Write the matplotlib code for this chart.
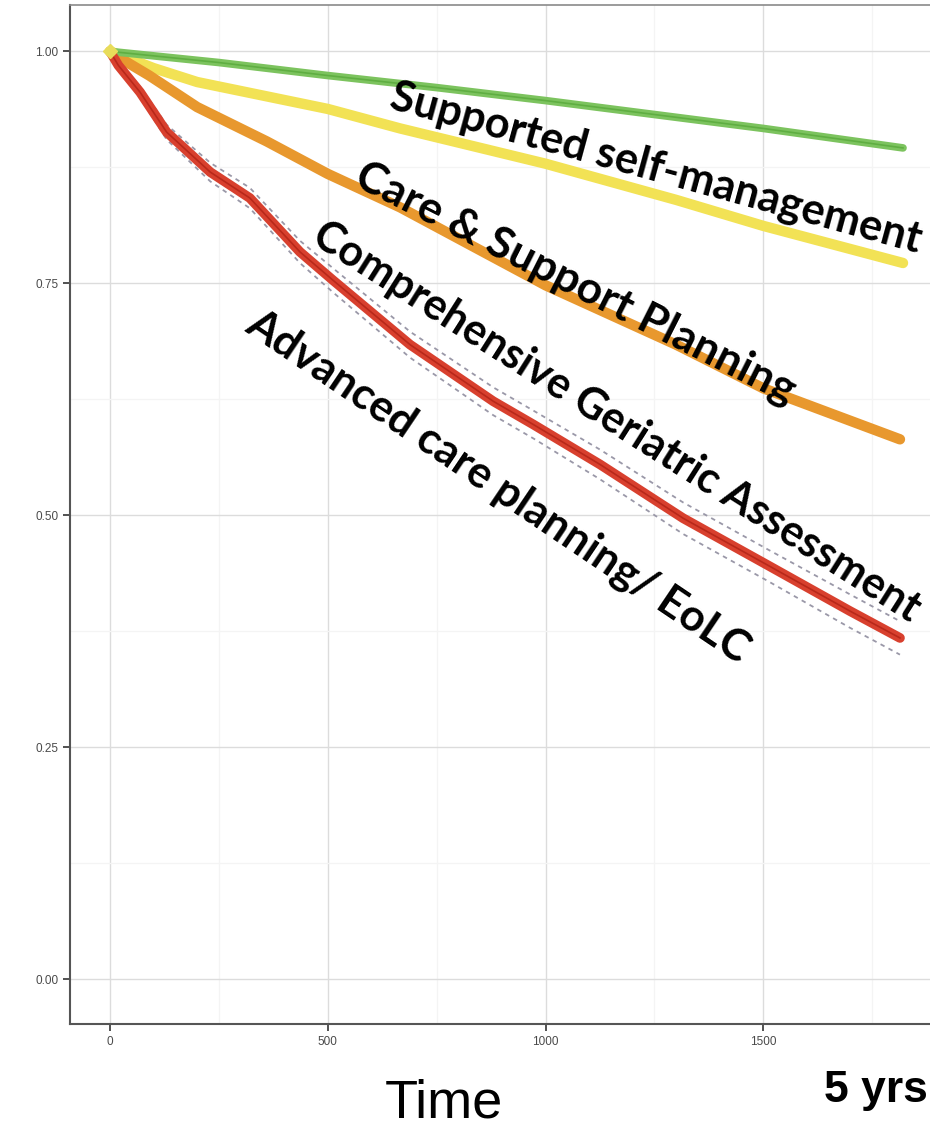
import numpy as np
import matplotlib
matplotlib.use('Agg')
import matplotlib.pyplot as plt
from matplotlib.ticker import MultipleLocator


# Survival curves (time in days, proportion surviving).
green_t = [0, 250, 500, 750, 1000, 1300, 1500, 1821]
green_s = [1.0, 0.988, 0.974, 0.961, 0.947, 0.929, 0.917, 0.896]

yellow_t = [0, 50, 100, 200, 500, 666, 1000, 1300, 1500, 1821]
yellow_s = [1.0, 0.991, 0.982, 0.967, 0.938, 0.917, 0.879, 0.840, 0.812, 0.772]

orange_t = [0, 40, 90, 200, 360, 500, 666, 1000, 1300, 1500, 1814]
orange_s = [1.0, 0.988, 0.974, 0.940, 0.903, 0.868, 0.832, 0.748, 0.684, 0.637, 0.582]

red_t = [0, 19, 69, 130, 230, 321, 436, 513, 689, 880, 972, 1125, 1316, 1508, 1699, 1814]
red_s = [1.0, 0.985, 0.956, 0.913, 0.870, 0.842, 0.784, 0.753, 0.684, 0.623, 0.598,
         0.555, 0.497, 0.447, 0.397, 0.368]
red_hi = [1.0, 0.989, 0.962, 0.921, 0.880, 0.853, 0.796, 0.766, 0.698, 0.638, 0.613,
          0.571, 0.514, 0.464, 0.415, 0.386]
red_lo = [1.0, 0.981, 0.950, 0.905, 0.860, 0.831, 0.772, 0.740, 0.670, 0.608, 0.583,
          0.539, 0.480, 0.430, 0.379, 0.350]

labels = ['Supported self-management', 'Care & Support Planning',
          'Comprehensive Geriatric Assessment', 'Advanced care planning/ EoLC']

xticks = [0, 500, 1000, 1500]
yticks = [0.0, 0.25, 0.5, 0.75, 1.0]


W, H = 930, 1127
fig = plt.figure(figsize=(W / 100, H / 100), dpi=100)
ax = fig.add_axes([70 / W, (H - 1024) / H, 1 - 70 / W, (1024 - 5) / H])

ax.set_xlim(-92, 1883)
ax.set_ylim(-0.048, 1.050)

# grid
ax.xaxis.set_major_locator(MultipleLocator(500))
ax.xaxis.set_minor_locator(MultipleLocator(250))
ax.yaxis.set_major_locator(MultipleLocator(0.25))
ax.yaxis.set_minor_locator(MultipleLocator(0.125))
ax.grid(which='major', color='#dcdcdc', lw=1.0)
ax.grid(which='minor', color='#f4f4f4', lw=0.9)
ax.set_axisbelow(True)
ax.tick_params(which='minor', length=0)
ax.tick_params(which='major', direction='out', length=5, width=1.2, color='#333333',
               labelsize=8.5, labelcolor='#4a4a4a')
ax.set_xticks(xticks)
ax.set_yticks(yticks)
ax.set_yticklabels(['%.2f' % v for v in yticks])
for lab in ax.get_xticklabels() + ax.get_yticklabels():
    lab.set_fontfamily('Liberation Sans')

ax.spines['right'].set_visible(False)
ax.spines['top'].set_color('#8a8a8a')
ax.spines['top'].set_linewidth(1.2)
ax.spines['left'].set_color('#555555')
ax.spines['left'].set_linewidth(1.5)
ax.spines['bottom'].set_color('#555555')
ax.spines['bottom'].set_linewidth(1.5)

# curves
ax.plot(yellow_t, yellow_s, color='#f2e255', lw=7.5, solid_capstyle='round', zorder=3)
ax.plot(orange_t, orange_s, color='#e8982e', lw=7.5, solid_capstyle='round', zorder=3)
ax.plot(green_t, green_s, color='#7cc35e', lw=5.5, solid_capstyle='round', zorder=4)
ax.plot(green_t, green_s, color='#5fae42', lw=1.2, zorder=4)

ax.plot(red_t, red_hi, color='#9a98a8', lw=1.3, ls=(0, (2.5, 2.5)), zorder=3)
ax.plot(red_t, red_lo, color='#9a98a8', lw=1.3, ls=(0, (2.5, 2.5)), zorder=3)
ax.plot(red_t, red_s, color='#d8402e', lw=7, solid_capstyle='round', zorder=4)
ax.plot(red_t, red_s, color='#b8281a', lw=1.2, zorder=4)
ax.plot([0], [1.0], marker='D', ms=7, color='#e8dc5a', zorder=5)

# rotated curve labels (pixel position of baseline start, angle, size)
lab_pos = [(388, 108, -15.3, 31.2), (352, 184, -26.8, 32),
           (310, 242, -32.4, 30.8), (243, 330, -34.0, 31.5)]
for txt, (px, py, ang, fs) in zip(labels, lab_pos):
    fig.text(px / W, 1 - py / H, txt, rotation=ang, rotation_mode='anchor',
             ha='left', va='baseline', fontsize=fs, fontweight='bold',
             family='Lato', color='black', zorder=10)

fig.text(444 / W, 1 - 1118 / H, 'Time', ha='center', va='baseline', fontsize=39,
         family='Liberation Sans')
fig.text(928 / W, 1 - 1102 / H, '5 yrs', ha='right', va='baseline', fontsize=32,
         fontweight='bold', family='Liberation Sans')

fig.savefig('out.png', dpi=100)
